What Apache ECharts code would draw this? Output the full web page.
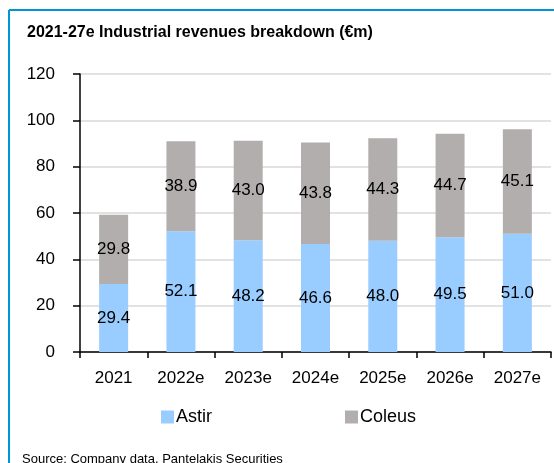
<!DOCTYPE html>
<html>
<head>
<meta charset="utf-8">
<script src="https://cdn.jsdelivr.net/npm/echarts@6/dist/echarts.min.js"></script>
<style>
  html, body { margin: 0; padding: 0; background: #fff; }
  #main { width: 554px; height: 463px; }
</style>
</head>
<body>
<div id="main"></div>
<script>
var years = ['2021', '2022e', '2023e', '2024e', '2025e', '2026e', '2027e'];
var astir = [29.4, 52.1, 48.2, 46.6, 48.0, 49.5, 51.0];
var coleus = [29.8, 38.9, 43.0, 43.8, 44.3, 44.7, 45.1];
var yTicks = [0, 20, 40, 60, 80, 100, 120];

var font = 'Liberation Sans, Arial, sans-serif';
var myChart = echarts.init(document.getElementById('main'));

var labelStyle = {
  show: true,
  position: 'inside',
  color: '#000',
  fontSize: 17,
  fontFamily: font,
  formatter: function (p) { return p.value.toFixed(1); }
};

var option = {
  animation: false,
  backgroundColor: '#fff',
  textStyle: { fontFamily: font },
  title: {
    text: '2021-27e Industrial revenues breakdown (€m)',
    left: 22,
    top: 20,
    textStyle: { fontSize: 16, fontWeight: 'bold', color: '#000', fontFamily: font }
  },
  graphic: [
    { type: 'line', shape: { x1: 9, y1: 10, x2: 554, y2: 10 }, style: { stroke: '#0096D6', lineWidth: 2 } },
    { type: 'line', shape: { x1: 9, y1: 10, x2: 9, y2: 463 }, style: { stroke: '#0096D6', lineWidth: 2 } },
    { type: 'text', left: 22, top: 453, style: { text: 'Source: Company data, Pantelakis Securities', fontSize: 13, fill: '#000', fontFamily: font } }
  ],
  legend: {
    data: ['Astir', 'Coleus'],
    left: 156,
    top: 403,
    itemWidth: 13,
    itemHeight: 13,
    itemGap: 133,
    icon: 'rect',
    textStyle: { fontSize: 18, color: '#000', fontFamily: font, padding: [0, 0, 0, -3] }
  },
  grid: { left: 80, right: 3, top: 74, bottom: 111, containLabel: false },
  xAxis: {
    type: 'category',
    data: years,
    axisLine: { lineStyle: { color: '#000', width: 1.5 } },
    axisTick: { show: true, length: 6, lineStyle: { color: '#000', width: 1.5 } },
    axisLabel: { color: '#000', fontSize: 17, margin: 18, fontFamily: font }
  },
  yAxis: {
    type: 'value',
    min: yTicks[0],
    max: yTicks[yTicks.length - 1],
    interval: 20,
    axisLine: { show: true, lineStyle: { color: '#000', width: 1.5 } },
    axisTick: { show: true, length: 7, lineStyle: { color: '#000', width: 1.5 } },
    axisLabel: { color: '#000', fontSize: 17, margin: 25, fontFamily: font },
    splitLine: { lineStyle: { color: '#D9D9D9', width: 1.5 } }
  },
  series: [
    {
      name: 'Astir',
      type: 'bar',
      stack: 'total',
      barWidth: 29,
      data: astir,
      itemStyle: { color: '#99CCFF' },
      label: labelStyle
    },
    {
      name: 'Coleus',
      type: 'bar',
      stack: 'total',
      barWidth: 29,
      data: coleus,
      itemStyle: { color: '#B2AEAE' },
      label: labelStyle
    }
  ]
};

myChart.setOption(option);
</script>
</body>
</html>
